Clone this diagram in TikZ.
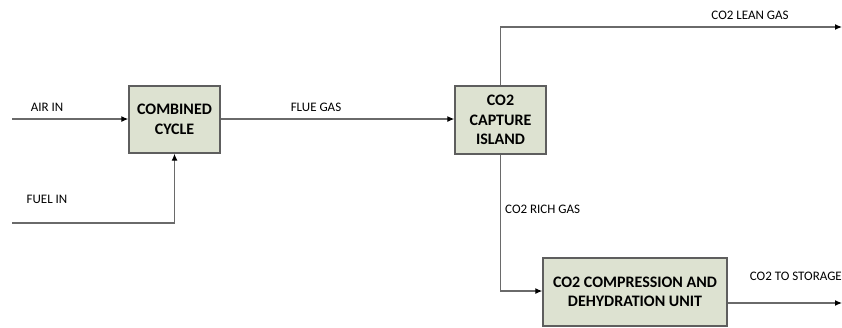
\documentclass[tikz,border=0pt]{standalone}
\usepackage{fontspec}
\setmainfont{Carlito}
\usepackage{tikz}
\usetikzlibrary{positioning, arrows.meta, calc}
\usepackage{xcolor}
\definecolor{boxfill}{HTML}{DDE2D1}
\definecolor{boxline}{HTML}{5E5E5E}
\definecolor{flowline}{HTML}{6A6A6A}

\begin{document}
\begin{tikzpicture}[
    x=1pt, y=-1pt,
    unit/.style={draw=boxline, line width=1.4pt, fill=boxfill, inner sep=0pt, align=center, font=\fontsize{16}{19.5}\selectfont\bfseries},
    tag/.style={font=\fontsize{13}{15}\selectfont, inner sep=0pt},
    line/.style={draw=flowline, line width=1.2pt, -{Latex[black, length=7pt, width=6pt]}}
]
\useasboundingbox (0,0) rectangle (842,327);

% Nodes
\node[unit, minimum width=91pt, minimum height=67pt] (cc) at (174.5,119.5) {COMBINED\\CYCLE};
\node[unit, minimum width=91pt, minimum height=68pt] (cap) at (500.5,120) {CO2\\CAPTURE\\ISLAND};
\node[unit, minimum width=184pt, minimum height=68pt] (comp) at (635,292) {CO2 COMPRESSION AND\\DEHYDRATION UNIT};

\coordinate (airin) at (12,119);
\coordinate (fuelin) at (12,223);
\coordinate (lean) at (842,27);
\coordinate (store) at (842,303);

% Labels
\node[tag] (airlbl) at (47,107) {AIR IN};
\node[tag] (fuellbl) at (47,199) {FUEL IN};
\node[tag] (fluelbl) at (316,107) {FLUE GAS};
\node[tag] (leanlbl) at (750,15) {CO2 LEAN GAS};
\node[tag, anchor=west] (richlbl) at (505,209) {CO2 RICH GAS};
\node[tag, anchor=east] (storelbl) at (842,276) {CO2 TO STORAGE};

% Edges
\draw[line] (airin) -- (airin -| cc.west);
\draw[line] (fuelin) -| (cc.south);
\draw[line] (cc.east |- airin) -- (cap.west |- airin);
\draw[line] (cap.north) |- (lean);
\draw[line] (cap.south) |- (comp.west |- 0,291);
\draw[line] (comp.east |- store) -- (store);

\end{tikzpicture}
\end{document}
